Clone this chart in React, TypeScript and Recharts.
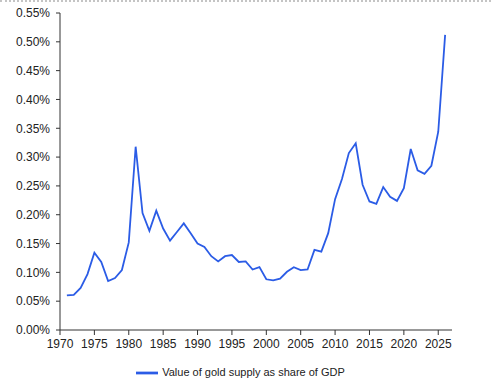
import { LineChart, Line, XAxis, YAxis, Legend } from "recharts";

const years = [
  1971, 1972, 1973, 1974, 1975, 1976, 1977, 1978, 1979, 1980,
  1981, 1982, 1983, 1984, 1985, 1986, 1987, 1988, 1989, 1990,
  1991, 1992, 1993, 1994, 1995, 1996, 1997, 1998, 1999, 2000,
  2001, 2002, 2003, 2004, 2005, 2006, 2007, 2008, 2009, 2010,
  2011, 2012, 2013, 2014, 2015, 2016, 2017, 2018, 2019, 2020,
  2021, 2022, 2023, 2024, 2025, 2026,
];

// value of gold supply as % of GDP
const goldShare = [
  0.06, 0.061, 0.073, 0.097, 0.134, 0.118, 0.085, 0.09, 0.104, 0.152,
  0.318, 0.203, 0.172, 0.207, 0.176, 0.155, 0.17, 0.185, 0.168, 0.15,
  0.144, 0.128, 0.119, 0.128, 0.13, 0.118, 0.119, 0.105, 0.109, 0.088,
  0.086, 0.089, 0.101, 0.109, 0.104, 0.105, 0.139, 0.136, 0.168, 0.227,
  0.262, 0.307, 0.324, 0.252, 0.223, 0.219, 0.248, 0.231, 0.224, 0.246,
  0.314, 0.277, 0.271, 0.285, 0.344, 0.512,
];

const xTicks = [1970, 1975, 1980, 1985, 1990, 1995, 2000, 2005, 2010, 2015, 2020, 2025];
const yTicks = [0, 0.05, 0.1, 0.15, 0.2, 0.25, 0.3, 0.35, 0.4, 0.45, 0.5, 0.55];

const data = years.map((year, i) => ({ year, share: goldShare[i] }));

const font = "Arial, 'Liberation Sans', sans-serif";
const tickStyle = { fontSize: 12, fill: "#222", fontFamily: font };

const App = () => {
  return (
    <div
      style={{
        position: "absolute",
        top: 0,
        left: 0,
        width: 491,
        height: 381,
        borderTop: "2px dotted #c4c4c4",
        boxSizing: "border-box",
        background: "#fff",
      }}
    >
      <LineChart
        width={491}
        height={379}
        data={data}
        margin={{ top: 11, right: 39, left: 0, bottom: 0 }}
      >
        <XAxis
          dataKey="year"
          type="number"
          domain={[1970, 2027]}
          ticks={xTicks}
          tick={tickStyle}
          tickSize={5}
          tickMargin={4}
          stroke="#333"
          height={30}
        />
        <YAxis
          domain={[0, 0.55]}
          ticks={yTicks}
          tick={tickStyle}
          tickFormatter={(v: number) => v.toFixed(2) + "%"}
          tickSize={4}
          tickMargin={6}
          stroke="#333"
          width={60}
        />
        <Legend
          verticalAlign="bottom"
          height={21}
          iconSize={22}
          wrapperStyle={{ fontSize: 11, fontFamily: font, top: 360, bottom: "auto", left: 0, width: 491 }}
          formatter={(value: string) => <span style={{ color: "#222" }}>{value}</span>}
        />
        <Line
          dataKey="share"
          name="Value of gold supply as share of GDP"
          type="linear"
          stroke="#2b5ce6"
          strokeWidth={1.8}
          dot={false}
          legendType="plainline"
          isAnimationActive={false}
        />
      </LineChart>
    </div>
  );
};

export default App;
